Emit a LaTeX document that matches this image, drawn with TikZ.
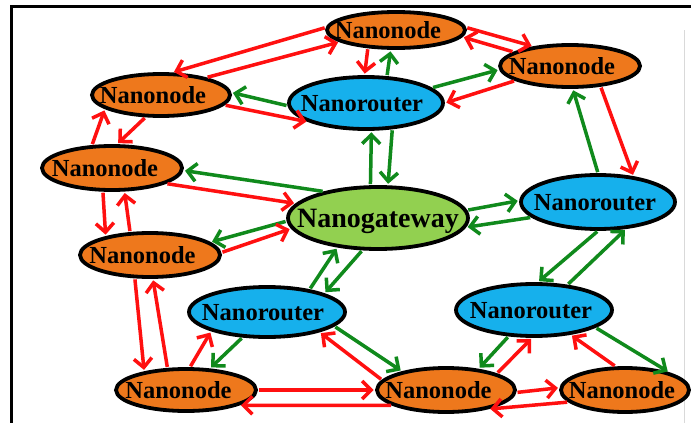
\documentclass[tikz,border=0pt]{standalone}
\usepackage{fontspec}
\setmainfont{Liberation Serif}
\usetikzlibrary{shapes.geometric,arrows.meta}
\definecolor{nodeorange}{RGB}{238,120,28}
\definecolor{routerblue}{RGB}{22,176,236}
\definecolor{gatewaygreen}{RGB}{146,208,80}
\definecolor{arrred}{RGB}{255,16,16}
\definecolor{arrgreen}{RGB}{16,138,28}
\newcommand\lbl[2]{\makebox[0pt]{#2\kern#1pt}}
\tikzset{
  elbase/.style={ellipse, draw=black, line width=3.8pt, inner sep=0pt, text depth=0pt},
  nanonode/.style={elbase, fill=nodeorange, font=\fontsize{24.5}{24.5}\selectfont\bfseries},
  router/.style={elbase, fill=routerblue, font=\fontsize{24.5}{24.5}\selectfont\bfseries},
  gateway/.style={elbase, fill=gatewaygreen, font=\fontsize{28}{28}\selectfont\bfseries},
  arrbase/.style={line width=3.5pt, -{Straight Barb[length=9pt,width=18pt]}, shorten >=1.5pt, shorten <=1pt},
  ra/.style={arrbase, draw=arrred},
  ga/.style={arrbase, draw=arrgreen},
  frameline/.style={line width=3pt, draw=black}
}
\begin{document}
\begin{tikzpicture}[x=1pt,y=-1pt]
\useasboundingbox (0,0) rectangle (691,423);
\fill[white] (0,0) rectangle (691,423);
\coordinate (fa) at (11.5,423);
\coordinate (fb) at (11.5,6.5);
\coordinate (fc) at (691,6.5);
\draw[frameline] (fa) -- (fb) -- (fc);
\coordinate (ra1) at (684,30);
\coordinate (ra2) at (684,423);
\draw[black!15, line width=1pt] (ra1) -- (ra2);

% nodes
\node[nanonode, minimum width=138pt, minimum height=36pt] (N1) at (396,30) {\lbl{16}{Nanonode}};
\node[nanonode, minimum width=138pt, minimum height=42pt] (N2) at (161,95) {\lbl{16}{Nanonode}};
\node[nanonode, minimum width=140pt, minimum height=42pt] (N3) at (570,66) {\lbl{16}{Nanonode}};
\node[router, minimum width=154pt, minimum height=52pt] (R1) at (366,103) {\lbl{8}{Nanorouter}};
\node[nanonode, minimum width=140pt, minimum height=44pt] (N4) at (112,168) {\lbl{14}{Nanonode}};
\node[gateway, minimum width=180pt, minimum height=62pt] (G) at (378,218) {\lbl{0}{Nanogateway}};
\node[router, minimum width=154pt, minimum height=54pt] (R2) at (598,202) {\lbl{6}{Nanorouter}};
\node[nanonode, minimum width=140pt, minimum height=44pt] (N5) at (150,255) {\lbl{15}{Nanonode}};
\node[router, minimum width=156pt, minimum height=50pt] (R3) at (267,312) {\lbl{8}{Nanorouter}};
\node[router, minimum width=156pt, minimum height=52pt] (R4) at (534,310) {\lbl{6}{Nanorouter}};
\node[nanonode, minimum width=140pt, minimum height=42pt] (N6) at (186,390) {\lbl{15}{Nanonode}};
\node[nanonode, minimum width=138pt, minimum height=44pt] (N7) at (446,390) {\lbl{15}{Nanonode}};
\node[nanonode, minimum width=128pt, minimum height=44pt] (N8) at (625,390) {\lbl{6}{Nanonode}};

% connectors
\draw[ra] (N1.178) -- (N2.63);
\draw[ra] (N2.21) -- (N1.192);
\draw[ra] (N2.-9) -- (R1.198);
\draw[ga] (R1.182) -- (N2.2);
\draw[ra] (N4.131) -- (N2.194);
\draw[ra] (N2.235) -- (N4.78);
\draw[ga] (G.154) -- (N4.358);
\draw[ra] (N4.344) -- (G.170);
\draw[ra] (N4.249) -- (N5.157);
\draw[ra] (N5.131) -- (N4.298);
\draw[ga] (G.182) -- (N5.12);
\draw[ra] (N5.2) -- (G.187);
\draw[ra] (N5.237) -- (N6.156);
\draw[ra] (N6.130) -- (N5.277);
\draw[ra] (N6.80) -- (R3.199);
\draw[ga] (R3.226) -- (N6.42);
\draw[ra] (N6.0) -- (N7.180);
\draw[ra] (N7.196) -- (N6.344);
\draw[ra] (N7.171) -- (R3.339);
\draw[ga] (R3.348) -- (N7.157);
\draw[ga] (R3.28) -- (G.216);
\draw[ga] (G.244) -- (R3.18);
\draw[ga] (G.103) -- (R1.281);
\draw[ga] (R1.315) -- (G.73);
\draw[ga] (G.5) -- (R2.179);
\draw[ga] (R2.193) -- (G.354);
\draw[ra] (N1.213) -- (R1.93);
\draw[ga] (R1.52) -- (N1.255);
\draw[ra] (N1.2) -- (N3.152);
\draw[ra] (N3.166) -- (N1.354);
\draw[ga] (R1.13) -- (N3.183);
\draw[ra] (N3.195) -- (R1.0);
\draw[ga] (R2.90) -- (N3.277);
\draw[ra] (N3.326) -- (R2.36);
\draw[ga] (R2.270) -- (R4.82);
\draw[ga] (R4.37) -- (R2.316);
\draw[ga] (R4.226) -- (N7.33);
\draw[ra] (N7.18) -- (R4.266);
\draw[ra] (N8.112) -- (R4.326);
\draw[ga] (R4.344) -- (N8.22);
\draw[ra] (N7.358) -- (N8.178);
\draw[ra] (N8.192) -- (N7.336);
\end{tikzpicture}
\end{document}
